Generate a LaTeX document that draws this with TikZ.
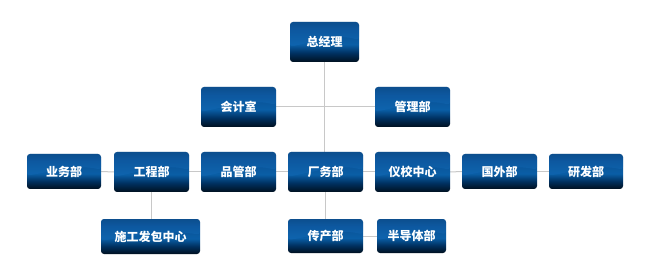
\documentclass[tikz,border=0pt]{standalone}
\usepackage{fontspec}
\usetikzlibrary{backgrounds,calc}
\newfontfamily\cjk{Noto Sans CJK SC}
\definecolor{bA}{HTML}{00101F}
\definecolor{bB}{HTML}{00305F}
\definecolor{bC}{HTML}{0A5EA6}
\definecolor{bD}{HTML}{0A5AA0}
\definecolor{bE}{HTML}{084F94}
\definecolor{bF}{HTML}{07427C}
\definecolor{hilite}{HTML}{1C74C4}
\definecolor{linegray}{HTML}{C8C8C8}
\pgfdeclareverticalshading{boxshade}{100bp}{color(0bp)=(bA); color(25bp)=(bA); color(36bp)=(bB); color(47bp)=(bC); color(53bp)=(bD); color(65bp)=(bE); color(75bp)=(bF); color(100bp)=(bF)}
\tikzset{
  box/.style={shading=boxshade, rounded corners=3pt, inner sep=0pt,
    text=white, font=\cjk\bfseries\fontsize{12}{14}\selectfont,
    minimum width=75pt, minimum height=40pt,
    path picture={
      \fill[hilite, opacity=0.25]
        (path picture bounding box.north west) --
        ($(path picture bounding box.north west)!0.62!(path picture bounding box.south west)$)
        .. controls ($(path picture bounding box.north west)!0.45!(path picture bounding box.south east)$) and
                    ($(path picture bounding box.north east)!0.30!(path picture bounding box.south west)$) ..
        ($(path picture bounding box.north east)!0.45!(path picture bounding box.south east)$) --
        (path picture bounding box.north east) -- cycle;
    }},
  conn/.style={draw=linegray, line width=1pt}
}
\begin{document}
\begin{tikzpicture}[x=1pt,y=-1pt]
\useasboundingbox (0,0) rectangle (650,275);
\path
  (324.5,42) node[box, minimum width=69pt] (gm) {总经理}
  (238.5,107) node[box] (kj) {会计室}
  (412.5,107) node[box] (gl) {管理部}
  (64,171.5) node[box, minimum width=74pt, minimum height=35pt] (yw) {业务部}
  (151.5,172) node[box] (gc) {工程部}
  (238.5,172) node[box] (pg) {品管部}
  (325.5,172) node[box] (cw) {厂务部}
  (412.5,172) node[box] (yx) {仪校中心}
  (499.5,171.5) node[box, minimum height=35pt] (gw) {国外部}
  (586,171.5) node[box, minimum width=74pt, minimum height=35pt] (yf) {研发部}
  (150.5,236.5) node[box, minimum width=99pt, minimum height=35pt] (sg) {施工发包中心}
  (325.5,236) node[box, minimum height=34pt] (cc) {传产部}
  (411.5,236) node[box, minimum width=69pt, minimum height=34pt] (bd) {半导体部};
\begin{scope}[on background layer]
  \fill[white] (0,0) rectangle (650,275);
  \draw[conn] (gm.south) -- (gm.south |- cw.north);
  \draw[conn] (kj.east) -- (gl.west);
  \draw[conn] (yw.east) -- (gc.west);
  \draw[conn] (gc.east) -- (pg.west);
  \draw[conn] (pg.east) -- (cw.west);
  \draw[conn] (cw.east) -- (yx.west);
  \draw[conn] (yx.east) -- (gw.west);
  \draw[conn] (gw.east) -- (yf.west);
  \draw[conn] (gc.south) -- (gc.south |- sg.north);
  \draw[conn] (cw.south) -- (cw.south |- cc.north);
  \draw[conn] (cc.east) -- (bd.west);
\end{scope}
\end{tikzpicture}
\end{document}
